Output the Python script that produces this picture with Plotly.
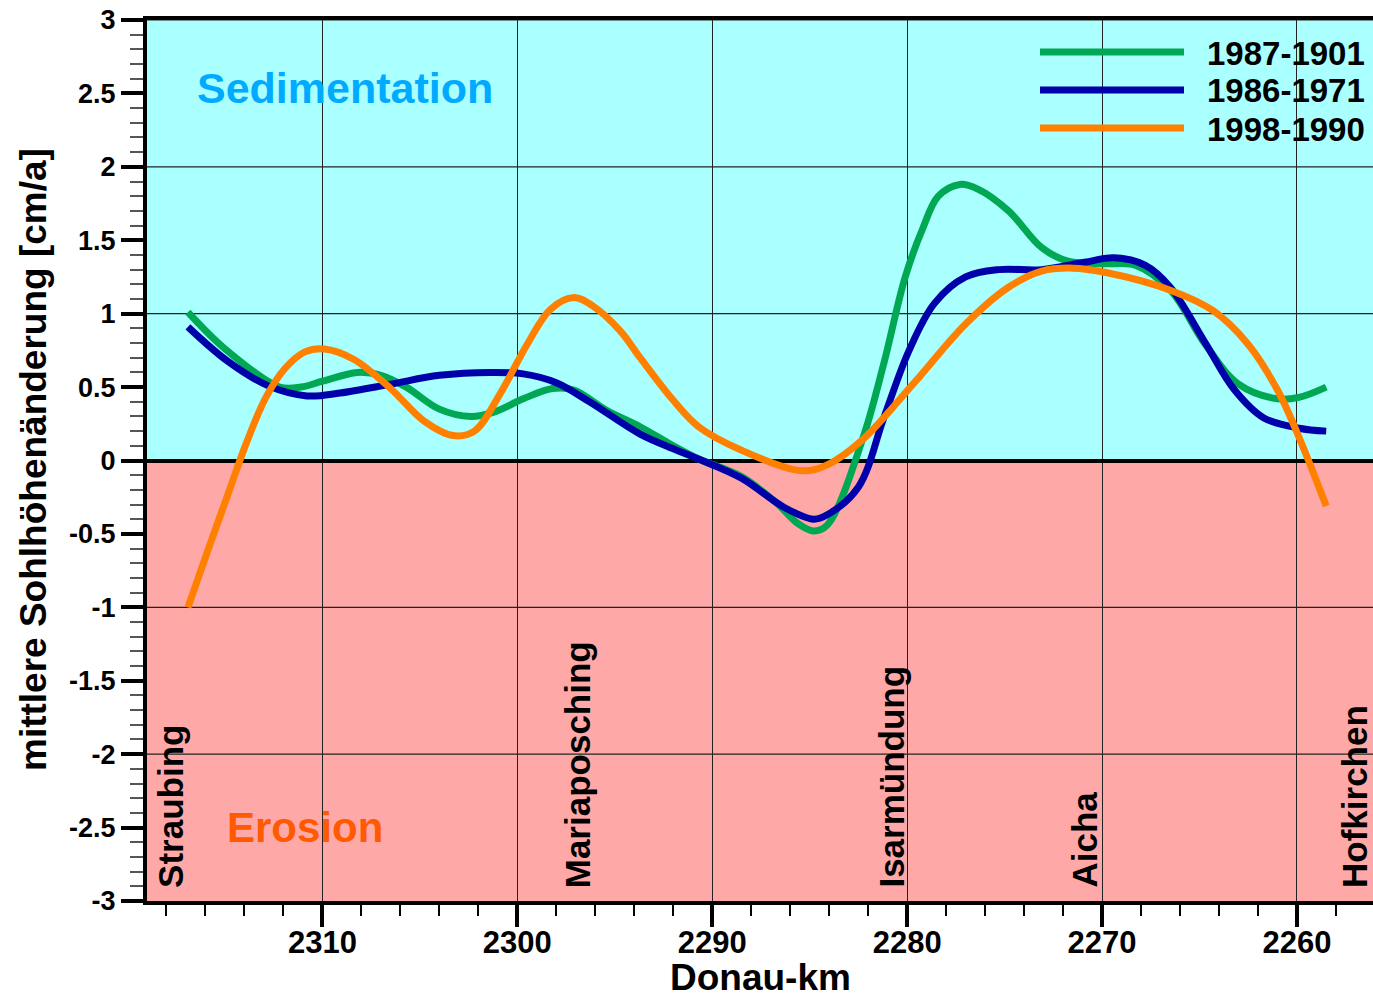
import plotly.graph_objects as go

# ---------------- data ----------------
km_green = [2316.9, 2315.0, 2312.2, 2311.1, 2310.0, 2308.2, 2307.0, 2305.7, 2304.0, 2302.4,
            2301.2, 2299.7, 2298.2, 2297.1, 2295.4, 2293.7, 2292.0, 2290.7, 2288.5, 2286.7,
            2285.6, 2284.8, 2284.1, 2282.3, 2281.2, 2280.1, 2279.2, 2278.4, 2277.3, 2276.4,
            2274.8, 2273.1, 2271.8, 2269.8, 2268.3, 2266.5, 2264.7, 2263.0, 2261.0, 2259.9,
            2258.5]
val_green = [1.01, 0.76, 0.50, 0.50, 0.54, 0.60, 0.58, 0.50, 0.35, 0.30,
             0.33, 0.42, 0.49, 0.48, 0.34, 0.23, 0.10, 0.01, -0.11, -0.29,
             -0.43, -0.48, -0.44, 0.14, 0.66, 1.25, 1.58, 1.80, 1.88, 1.85,
             1.70, 1.45, 1.36, 1.34, 1.33, 1.16, 0.79, 0.52, 0.42, 0.43,
             0.50]

km_blue = [2316.9, 2314.9, 2312.8, 2310.8, 2309.1, 2306.5, 2304.0, 2301.4, 2299.7, 2298.0,
           2296.3, 2293.7, 2292.0, 2290.7, 2288.5, 2286.3, 2284.8, 2284.1, 2282.5, 2281.2,
           2279.9, 2278.6, 2277.0, 2275.3, 2273.1, 2270.9, 2269.4, 2267.8, 2266.5, 2264.7,
           2263.2, 2261.7, 2259.9, 2258.5]
val_blue = [0.91, 0.68, 0.51, 0.44, 0.46, 0.52, 0.58, 0.60, 0.59, 0.53,
            0.40, 0.18, 0.08, 0.01, -0.12, -0.32, -0.40, -0.37, -0.18, 0.29,
            0.75, 1.07, 1.25, 1.30, 1.30, 1.35, 1.38, 1.33, 1.18, 0.80,
            0.48, 0.29, 0.22, 0.20]

km_orange = [2316.9, 2315.9, 2314.9, 2313.9, 2312.9, 2311.9, 2310.9, 2309.9, 2308.4, 2306.5,
             2304.8, 2303.3, 2302.2, 2300.9, 2299.5, 2298.3, 2297.1, 2296.1, 2294.7, 2293.7,
             2292.0, 2290.7, 2288.5, 2285.4, 2284.1, 2282.3, 2279.7, 2277.0, 2274.8, 2273.1,
             2271.5, 2269.8, 2266.5, 2264.3, 2262.5, 2261.0, 2259.9, 2258.5]
val_orange = [-1.00, -0.62, -0.25, 0.12, 0.43, 0.63, 0.74, 0.76, 0.69, 0.49,
              0.27, 0.17, 0.20, 0.45, 0.79, 1.03, 1.11, 1.05, 0.88, 0.70,
              0.41, 0.23, 0.07, -0.07, -0.03, 0.14, 0.52, 0.93, 1.18, 1.29,
              1.31, 1.28, 1.16, 1.02, 0.79, 0.48, 0.16, -0.31]

series_names = ["1987-1901", "1986-1971", "1998-1990"]
series_colors = ["#00A854", "#0000AA", "#FF8000"]

place_names = ["Straubing", "Mariaposching", "Isarmündung", "Aicha", "Hofkirchen"]
place_km = [2317.8, 2296.9, 2280.85, 2270.95, 2257.05]

x_ticks = [2310, 2300, 2290, 2280, 2270, 2260]
y_ticks = [3, 2.5, 2, 1.5, 1, 0.5, 0, -0.5, -1, -1.5, -2, -2.5, -3]
y_ticktext = ["3", "2.5", "2", "1.5", "1", "0.5", "0", "-0.5", "-1", "-1.5", "-2", "-2.5", "-3"]
y_grid = [3, 2, 1, -1, -2]

# ---------------- layout geometry ----------------
W, H = 1373, 997
ML, MR, MT, MB = 147, 0, 20, 96
PW, PH = W - ML - MR, H - MT - MB

def px(xp):
    return (xp - ML) / PW

def py(yp):
    return (H - MB - yp) / PH

FONT = "Liberation Sans, Arial, sans-serif"

fig = go.Figure()
for xs, ys, name, color in zip([km_green, km_blue, km_orange],
                               [val_green, val_blue, val_orange],
                               series_names, series_colors):
    fig.add_trace(go.Scatter(x=xs, y=ys, mode="lines", name=name,
                             line=dict(color=color, width=7, shape="spline", smoothing=1.0),
                             showlegend=False, hoverinfo="x+y"))

shapes = [
    dict(type="rect", xref="paper", yref="y", x0=0, x1=1, y0=0, y1=3,
         fillcolor="#AAFFFF", line=dict(width=0), layer="below"),
    dict(type="rect", xref="paper", yref="y", x0=0, x1=1, y0=-3, y1=0,
         fillcolor="#FFA8A8", line=dict(width=0), layer="below"),
]
for v in y_grid:
    shapes.append(dict(type="line", xref="paper", yref="y", x0=0, x1=1, y0=v, y1=v,
                       line=dict(color="#222222", width=1.2), layer="below"))

annotations = []
# legend (manual)
leg_y = [52, 90, 128]
for name, color, yy in zip(series_names, series_colors, leg_y):
    shapes.append(dict(type="line", xref="paper", yref="paper",
                       x0=px(1040), x1=px(1184), y0=py(yy), y1=py(yy),
                       line=dict(color=color, width=7)))
    annotations.append(dict(xref="paper", yref="paper", x=px(1205), y=py(yy + 1),
                            text="<b>%s</b>" % name, showarrow=False,
                            xanchor="left", yanchor="middle",
                            font=dict(family=FONT, size=33, color="black")))

# region labels
annotations.append(dict(xref="paper", yref="paper", x=px(345), y=py(88),
                        text="<b>Sedimentation</b>", showarrow=False,
                        xanchor="center", yanchor="middle",
                        font=dict(family=FONT, size=43, color="#00AAFF")))
annotations.append(dict(xref="paper", yref="paper", x=px(305), y=py(827),
                        text="<b>Erosion</b>", showarrow=False,
                        xanchor="center", yanchor="middle",
                        font=dict(family=FONT, size=42, color="#FF5A00")))

# place names
for name, k in zip(place_names, place_km):
    annotations.append(dict(xref="x", yref="paper", x=k, y=py(889),
                            text="<b>%s</b>" % name, showarrow=False, textangle=-90,
                            xanchor="center", yanchor="bottom", borderpad=0,
                            font=dict(family=FONT, size=35, color="black")))

# axis titles
annotations.append(dict(xref="paper", yref="paper", x=px(761), y=py(978),
                        text="<b>Donau-km</b>", showarrow=False,
                        xanchor="center", yanchor="middle",
                        font=dict(family=FONT, size=37, color="black")))
annotations.append(dict(xref="paper", yref="paper", x=px(33), y=py(460),
                        text="<b>mittlere Sohlhöhenänderung [cm/a]</b>", showarrow=False,
                        textangle=-90, xanchor="center", yanchor="middle",
                        font=dict(family=FONT, size=37, color="black")))

fig.update_layout(
    width=W, height=H,
    margin=dict(l=ML, r=MR, t=MT, b=MB, pad=0),
    paper_bgcolor="white", plot_bgcolor="white",
    font=dict(family=FONT, color="black"),
    shapes=shapes, annotations=annotations,
    showlegend=False,
    xaxis=dict(range=[2319.0, 2256.1], tickmode="array", tickvals=x_ticks,
               ticktext=[str(v) for v in x_ticks],
               tickfont=dict(family=FONT, size=31, color="black", weight="bold"),
               ticks="outside", ticklen=22, tickwidth=4, tickcolor="black",
               ticklabelstandoff=-11,
               showline=True, linewidth=4, linecolor="black", mirror=True,
               showgrid=True, gridcolor="#222222", gridwidth=1.2,
               zeroline=False,
               minor=dict(tickmode="linear", tick0=2260, dtick=2, ticks="outside",
                          ticklen=11, tickwidth=1.5, tickcolor="black", showgrid=False)),
    yaxis=dict(range=[-3, 3], tickmode="array", tickvals=y_ticks, ticktext=y_ticktext,
               tickfont=dict(family=FONT, size=27, color="black", weight="bold"),
               ticks="outside", ticklen=22, tickwidth=4, tickcolor="black",
               showline=True, linewidth=4, linecolor="black", mirror=False,
               showgrid=False,
               zeroline=True, zerolinecolor="black", zerolinewidth=4,
               minor=dict(tickmode="linear", tick0=0, dtick=0.1, ticks="outside",
                          ticklen=13, tickwidth=1.5, tickcolor="#555555", showgrid=False)),
)

fig.write_html("out.html")
